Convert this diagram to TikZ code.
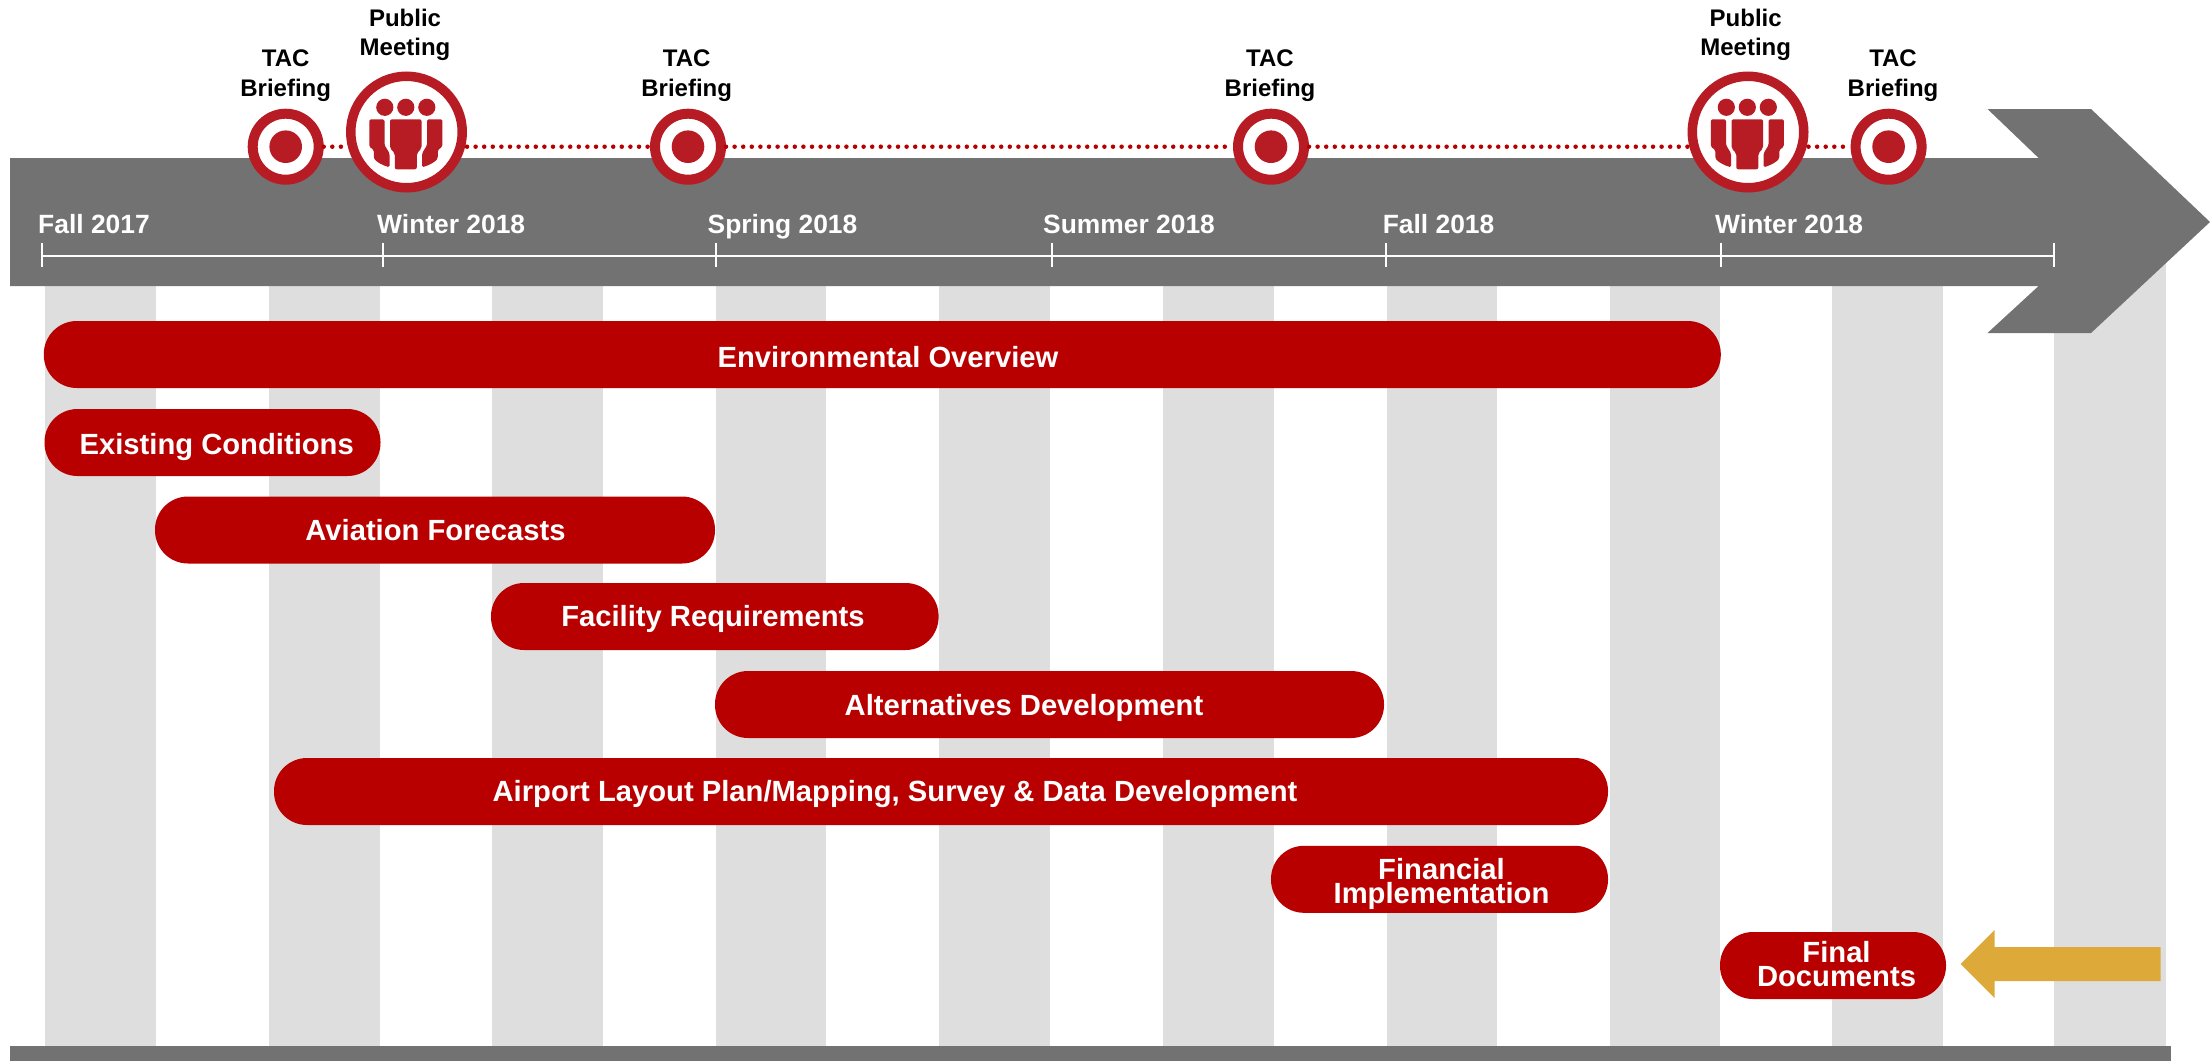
\documentclass[tikz,border=0pt]{standalone}
\usepackage{fontspec}
\setmainfont{Liberation Sans}
\definecolor{bargrey}{HTML}{717271}
\definecolor{stripegrey}{HTML}{DEDEDE}
\definecolor{pillred}{HTML}{B80000}
\definecolor{ringred}{HTML}{B71C24}
\definecolor{gold}{HTML}{DDAA3A}
% one line: x offset, baseline offset, text
\newcommand{\oneline}[3]{\raisebox{-#2pt}[0pt][0pt]{\makebox[0pt]{\hspace*{#1pt}\hspace*{#1pt}#3}}}
% two lines: x offset, first baseline offset, second baseline offset, texts
\newcommand{\twolines}[5]{\oneline{#1}{#2}{#4}\oneline{#1}{#3}{#5}}
\tikzset{
  stripe/.style={fill=stripegrey,draw=none},
  pill/.style={fill=pillred,draw=none,rounded corners=33pt,minimum height=67pt,inner sep=0pt,text=white,font=\fontsize{29.2}{24}\selectfont\bfseries},
  season/.style={text=white,anchor=base west,inner sep=0pt,font=\fontsize{26.4}{30}\selectfont\bfseries},
  tick/.style={draw=white,line width=2pt},
  evlabel/.style={text=black,inner sep=0pt,font=\fontsize{24}{29}\selectfont\bfseries},
  tacring/.style={circle,draw=ringred,line width=10pt,fill=white,minimum size=66pt,inner sep=0pt},
  pubring/.style={circle,draw=ringred,line width=9.5pt,fill=white,minimum size=111.5pt,inner sep=0pt},
  dotline/.style={draw=pillred,line width=4.5pt,line cap=round,dash pattern=on 0pt off 8.6pt},
  peopleicon/.pic={
    \begin{scope}[xshift=-0.7pt]
    \fill[ringred] (-21,-24.7) circle (8.6) (0,-24.7) circle (8.6) (21,-24.7) circle (8.6);
    \fill[ringred,rounded corners=2pt] (-15.8,-12.7) -- (15.8,-12.7) -- (15.8,16.3) -- (11,21.3) -- (11,37.3) -- (-11,37.3) -- (-11,21.3) -- (-15.8,16.3) -- cycle;
    \fill[ringred,rounded corners=1.5pt] (-36.5,-12.7) -- (-21.3,-12.7) -- (-21.3,13) -- (-16.3,21.3) -- (-16.3,35.3) .. controls (-24,33) and (-29,30) .. (-32,26.3) -- (-32,18) -- (-36.5,14.7) -- cycle;
    \fill[ringred,rounded corners=1.5pt] (36.5,-12.7) -- (21.3,-12.7) -- (21.3,13) -- (16.3,21.3) -- (16.3,35.3) .. controls (24,33) and (29,30) .. (32,26.3) -- (32,18) -- (36.5,14.7) -- cycle;
    \end{scope}
  }
}
\begin{document}
\begin{tikzpicture}[x=1pt,y=-1pt]
\path[use as bounding box,fill=white] (0,0) rectangle (2210,1061);
% stripes
\foreach \xa/\xb in {45/156,268.5/380,492/603,715.5/826,939/1050,1163/1274,1386.5/1497,1610/1720,1832/1943,2054/2166}
  \fill[stripe] (\xa,220) rectangle (\xb,1046);
% bottom bar
\fill[bargrey] (10,1046) rectangle (2171,1061);
% main arrow
\fill[bargrey] (10,158) -- (2038.6,158) -- (1987.5,109) -- (2091,109) -- (2210,222) -- (2091,333) -- (1987.5,333) -- (2038.6,286) -- (10,286) -- cycle;
% time line
\coordinate (t0) at (42,255.7);
\coordinate (t1) at (383,255.7);
\coordinate (t2) at (716,255.7);
\coordinate (t3) at (1052,255.7);
\coordinate (t4) at (1386,255.7);
\coordinate (t5) at (1721,255.7);
\coordinate (t6) at (2054,255.7);
\draw[tick] (t0) -- (t6);
\foreach \t in {t0,t1,t2,t3,t4,t5,t6}
  \draw[tick] ([yshift=-11pt]\t) -- ([yshift=13pt]\t);
\node[season] (s0) at (38,233) {Fall 2017};
\node[season] (s1) at (377,233) {Winter 2018};
\node[season] (s2) at (707.5,233) {Spring 2018};
\node[season] (s3) at (1043,233) {Summer 2018};
\node[season] (s4) at (1382.6,233) {Fall 2018};
\node[season] (s5) at (1715,233) {Winter 2018};
% events
\node[tacring] (tac1) at (285.7,146.7) {};
\node[tacring] (tac2) at (688,146.7) {};
\node[tacring] (tac3) at (1271,146.7) {};
\node[tacring] (tac4) at (1888.6,146.7) {};
\node[pubring] (pub1) at (406.5,132) {};
\node[pubring] (pub2) at (1748,132) {};
\draw[dotline] (tac1.east) -- (tac1.east -| pub1.west);
\draw[dotline] (tac2.west -| pub1.east) -- (tac2.west);
\draw[dotline] (tac2.east) -- (tac3.west);
\draw[dotline] (tac3.east) -- (tac3.east -| pub2.west);
\draw[dotline] (tac4.west -| pub2.east) -- (tac4.west);
\foreach \n in {tac1,tac2,tac3,tac4} \fill[ringred] (\n) circle (16.3);
\pic at (pub1) {peopleicon};
\pic at (pub2) {peopleicon};
\node[evlabel] (lt1) at (285.7,66.7) {\twolines{0}{0}{29.3}{TAC}{Briefing}};
\node[evlabel] (lp1) at (405,26.7) {\twolines{0}{0}{28.5}{Public}{Meeting}};
\node[evlabel] (lt2) at (686.7,66.7) {\twolines{0}{0}{29.3}{TAC}{Briefing}};
\node[evlabel] (lt3) at (1270,66.7) {\twolines{0}{0}{29.3}{TAC}{Briefing}};
\node[evlabel] (lp2) at (1745.7,26.7) {\twolines{0}{0}{28.5}{Public}{Meeting}};
\node[evlabel] (lt4) at (1893,66.7) {\twolines{0}{0}{29.3}{TAC}{Briefing}};
% pills
\node[pill,minimum width=1677pt] (env) at (882.3,354.5) {\oneline{5.7}{13.2}{Environmental Overview}};
\node[pill,minimum width=336pt] (exi) at (212.5,442.5) {\oneline{4.2}{11.5}{Existing Conditions}};
\node[pill,minimum width=560pt] (avi) at (435,530) {\oneline{0.5}{10.7}{Aviation Forecasts}};
\node[pill,minimum width=447.6pt] (fac) at (714.8,616.5) {\oneline{-1.8}{9.5}{Facility Requirements}};
\node[pill,minimum width=669pt] (alt) at (1049.5,704.5) {\oneline{-25.5}{10.5}{Alternatives Development}};
\node[pill,minimum width=1334pt] (air) at (941,791.5) {\oneline{-46}{10.2}{Airport Layout Plan/Mapping, Survey \& Data Development}};
\node[pill,minimum width=337pt] (fin) at (1439.5,879.3) {\twolines{2}{0.5}{24.2}{Financial}{Implementation}};
\node[pill,minimum width=226pt] (fnl) at (1833,965.5) {\twolines{3.5}{-3.5}{20.7}{Final}{Documents}};
% gold arrow
\fill[gold] (1960.7,964) -- (1994.6,930) -- (1994.6,947) -- (2160.7,947) -- (2160.7,981) -- (1994.6,981) -- (1994.6,998) -- cycle;
\end{tikzpicture}
\end{document}
